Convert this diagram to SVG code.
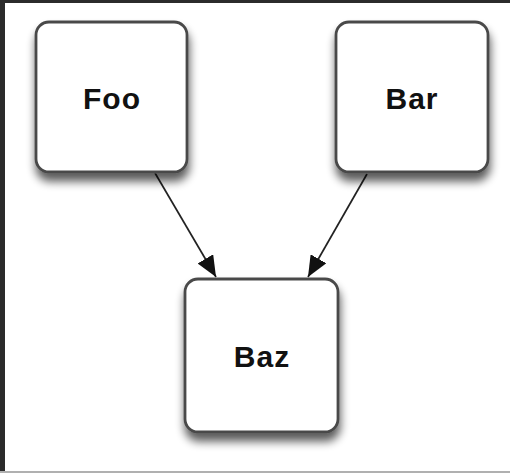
<svg xmlns="http://www.w3.org/2000/svg" width="510" height="473" viewBox="0 0 510 473">
<style>
.box{fill:#fff;stroke:#4a4a4a;stroke-width:2.8;filter:url(#sh)}
.lbl{font-family:"Liberation Sans",Arial,sans-serif;font-weight:bold;font-size:30px;fill:#111;text-anchor:middle;letter-spacing:1px}
.edge{stroke:#222;stroke-width:1.7;fill:none;marker-end:url(#ah)}
</style>
<defs>
<filter id="sh" x="-25%" y="-25%" width="150%" height="160%">
<feGaussianBlur in="SourceAlpha" stdDeviation="5"/>
<feOffset dx="1" dy="8" result="b"/>
<feComponentTransfer><feFuncA type="linear" slope="0.65"/></feComponentTransfer>
<feMerge><feMergeNode/><feMergeNode in="SourceGraphic"/></feMerge>
</filter>
<marker id="ah" markerUnits="userSpaceOnUse" markerWidth="22" markerHeight="18" refX="21" refY="9" orient="auto">
<path d="M0,0 L21,9 L0,18 z" fill="#111"/>
</marker>
</defs>
<rect x="0" y="0" width="510" height="473" fill="#fff"/>
<rect x="0" y="0" width="510" height="3" fill="#2b2b2b"/>
<rect x="0" y="0" width="5" height="473" fill="#2b2b2b"/>
<rect x="0" y="471" width="510" height="2" fill="#b0b0b0"/>
<g id="connectors">
<line class="edge" x1="155" y1="173" x2="216" y2="277"/>
<line class="edge" x1="367" y1="174" x2="308" y2="277"/>
</g>
<g id="foo">
<rect class="box" x="36" y="22" width="151" height="150" rx="13"/>
<text class="lbl" x="112" y="109">Foo</text>
</g>
<g id="bar">
<rect class="box" x="336" y="22" width="152" height="150" rx="13"/>
<text class="lbl" x="412" y="109">Bar</text>
</g>
<g id="baz">
<rect class="box" x="185" y="279" width="153" height="153" rx="13"/>
<text class="lbl" x="262" y="367">Baz</text>
</g>
</svg>
